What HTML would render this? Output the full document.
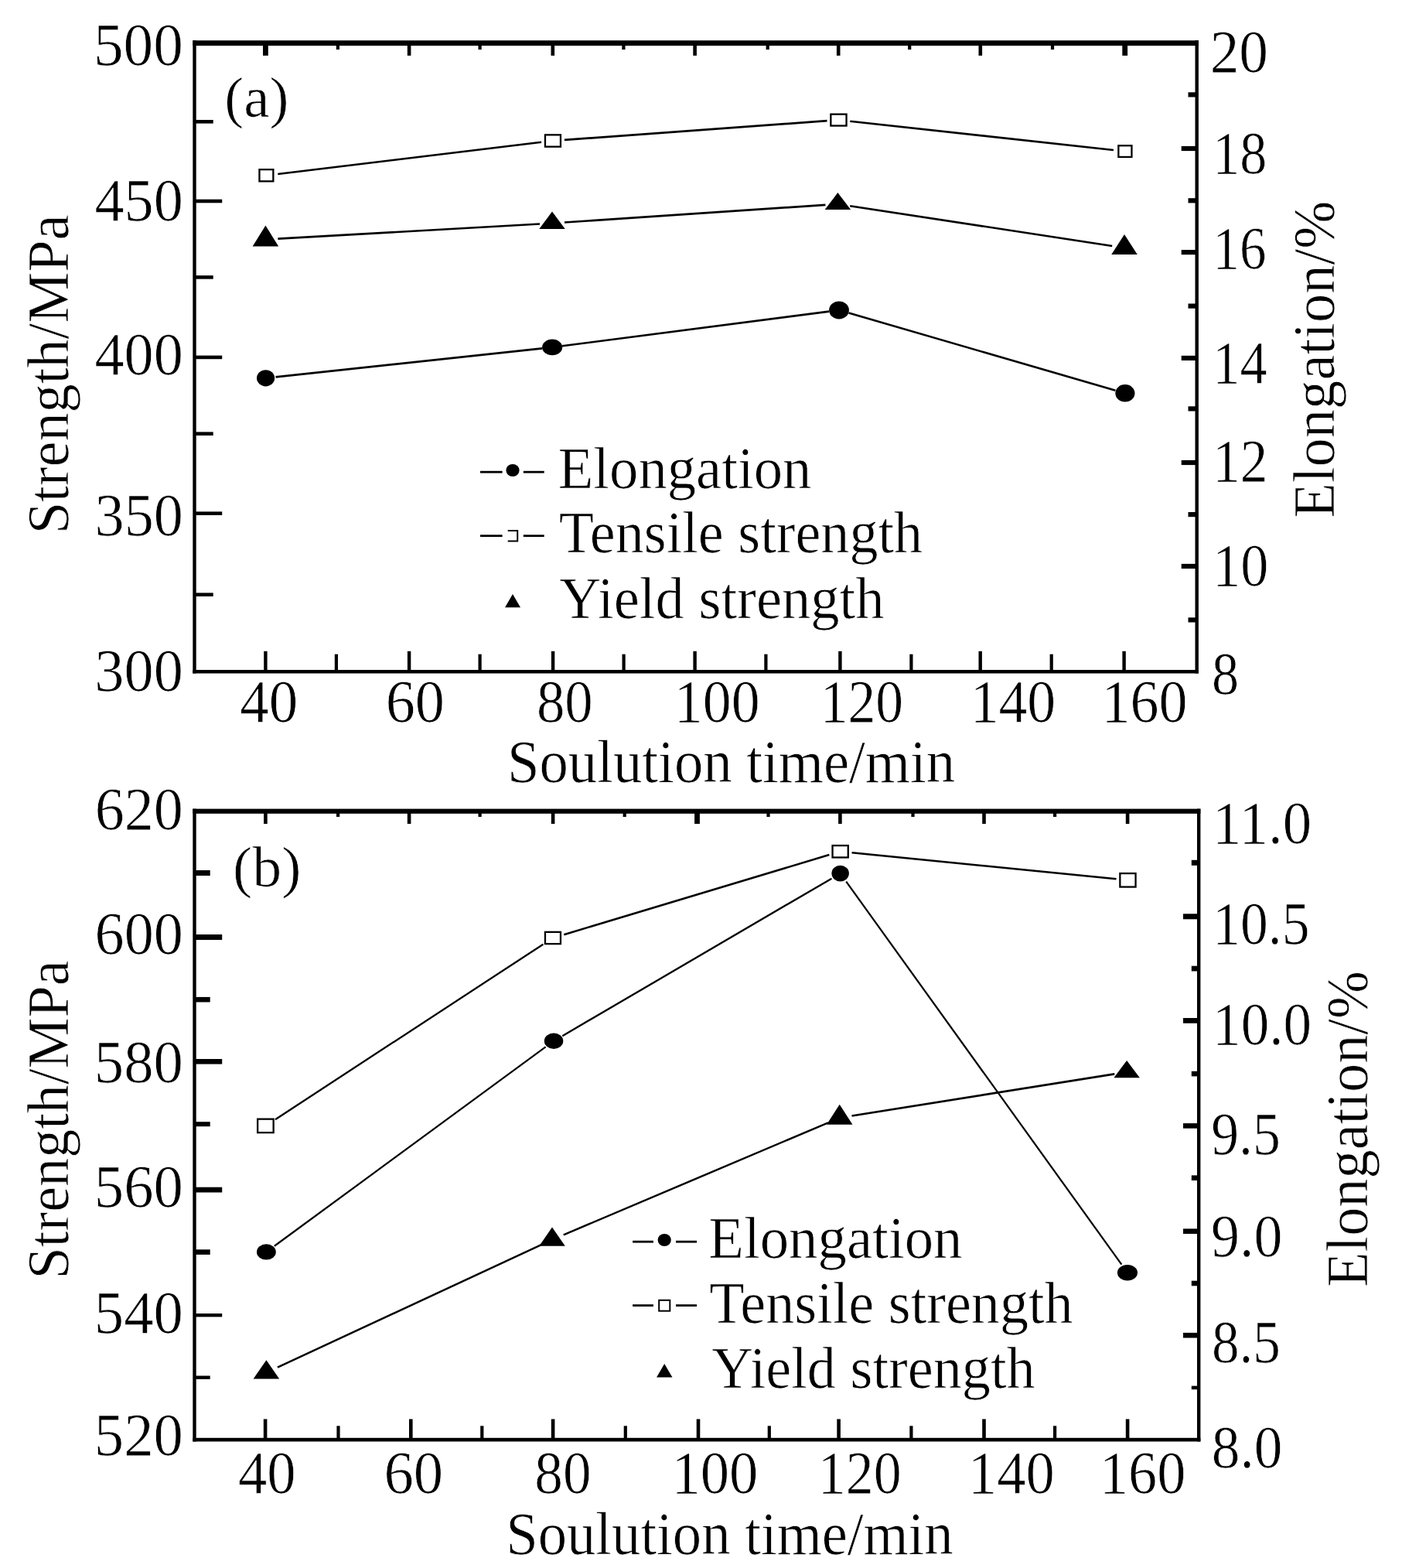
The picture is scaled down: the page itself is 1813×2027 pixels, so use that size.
<!DOCTYPE html>
<html lang="en">
<head>
<meta charset="utf-8">
<title>Strength and elongation versus solution time</title>
<style>
html,body{margin:0;padding:0;background:#fff;}
body{width:1813px;height:2027px;overflow:hidden;}
svg{display:block;}
svg text{font-family:"Liberation Serif","DejaVu Serif",serif;fill:#000;stroke:#fff;stroke-width:0.7px;}
</style>
</head>
<body>
<svg width="1813" height="2027" viewBox="0 0 1813 2027">
<rect x="0" y="0" width="1813" height="2027" fill="#fff"/>
<rect x="249.30" y="52.30" width="1300.60" height="6.80" fill="#000"/>
<rect x="249.30" y="866.00" width="1300.60" height="4.50" fill="#000"/>
<rect x="249.30" y="52.30" width="4.40" height="818.20" fill="#000"/>
<rect x="1545.50" y="52.30" width="4.40" height="818.20" fill="#000"/>
<rect x="341.20" y="841.80" width="4.40" height="25.20" fill="#000"/>
<rect x="432.80" y="845.70" width="4.20" height="21.30" fill="#000"/>
<rect x="526.90" y="841.80" width="4.40" height="25.20" fill="#000"/>
<rect x="618.50" y="845.70" width="4.20" height="21.30" fill="#000"/>
<rect x="712.90" y="841.80" width="4.40" height="25.20" fill="#000"/>
<rect x="804.50" y="845.70" width="4.20" height="21.30" fill="#000"/>
<rect x="896.40" y="841.80" width="4.40" height="25.20" fill="#000"/>
<rect x="988.30" y="845.70" width="4.20" height="21.30" fill="#000"/>
<rect x="1084.20" y="841.80" width="4.40" height="25.20" fill="#000"/>
<rect x="1176.30" y="845.70" width="4.20" height="21.30" fill="#000"/>
<rect x="1265.50" y="841.80" width="4.40" height="25.20" fill="#000"/>
<rect x="1357.60" y="845.70" width="4.20" height="21.30" fill="#000"/>
<rect x="1451.40" y="841.80" width="4.40" height="25.20" fill="#000"/>
<rect x="340.00" y="58.10" width="6.80" height="13.80" fill="#000"/>
<rect x="434.80" y="58.10" width="4.20" height="6.00" fill="#000"/>
<rect x="526.80" y="58.10" width="4.60" height="13.80" fill="#000"/>
<rect x="618.50" y="58.10" width="4.20" height="6.00" fill="#000"/>
<rect x="712.50" y="58.10" width="4.60" height="13.80" fill="#000"/>
<rect x="804.30" y="58.10" width="4.20" height="6.00" fill="#000"/>
<rect x="896.30" y="58.10" width="4.60" height="13.80" fill="#000"/>
<rect x="990.60" y="58.10" width="4.20" height="6.00" fill="#000"/>
<rect x="1081.90" y="58.10" width="4.60" height="13.80" fill="#000"/>
<rect x="1174.10" y="58.10" width="4.20" height="6.00" fill="#000"/>
<rect x="1265.50" y="58.10" width="4.60" height="13.80" fill="#000"/>
<rect x="1358.90" y="58.10" width="4.20" height="6.00" fill="#000"/>
<rect x="1451.30" y="58.10" width="6.80" height="13.80" fill="#000"/>
<rect x="252.70" y="766.40" width="23.00" height="4.60" fill="#000"/>
<rect x="252.70" y="661.40" width="34.50" height="4.60" fill="#000"/>
<rect x="252.70" y="558.40" width="23.00" height="4.60" fill="#000"/>
<rect x="252.70" y="459.60" width="34.50" height="4.60" fill="#000"/>
<rect x="252.70" y="356.10" width="23.00" height="4.60" fill="#000"/>
<rect x="252.70" y="257.70" width="34.50" height="4.60" fill="#000"/>
<rect x="252.70" y="155.00" width="23.00" height="4.60" fill="#000"/>
<rect x="1536.50" y="798.30" width="10.00" height="6.20" fill="#000"/>
<rect x="1527.70" y="728.90" width="18.80" height="6.20" fill="#000"/>
<rect x="1536.50" y="662.00" width="10.00" height="6.20" fill="#000"/>
<rect x="1527.70" y="594.90" width="18.80" height="6.20" fill="#000"/>
<rect x="1536.50" y="525.30" width="10.00" height="6.20" fill="#000"/>
<rect x="1527.70" y="459.80" width="18.80" height="6.20" fill="#000"/>
<rect x="1536.50" y="392.50" width="10.00" height="6.20" fill="#000"/>
<rect x="1527.70" y="323.00" width="18.80" height="6.20" fill="#000"/>
<rect x="1536.50" y="256.20" width="10.00" height="6.20" fill="#000"/>
<rect x="1527.70" y="188.90" width="18.80" height="6.20" fill="#000"/>
<rect x="1536.50" y="119.30" width="10.00" height="6.20" fill="#000"/>
<line x1="359.29" y1="224.95" x2="700.06" y2="183.80" stroke="#000" stroke-width="2.63"/>
<line x1="729.91" y1="180.91" x2="1069.49" y2="156.19" stroke="#000" stroke-width="2.64"/>
<line x1="1099.36" y1="156.73" x2="1439.99" y2="193.97" stroke="#000" stroke-width="2.64"/>
<line x1="356.53" y1="487.41" x2="701.22" y2="450.34" stroke="#000" stroke-width="2.64"/>
<line x1="727.04" y1="447.28" x2="1072.11" y2="402.62" stroke="#000" stroke-width="2.63"/>
<line x1="1097.48" y1="404.57" x2="1442.42" y2="504.73" stroke="#000" stroke-width="2.56"/>
<line x1="359.37" y1="308.63" x2="698.03" y2="289.50" stroke="#000" stroke-width="2.65"/>
<line x1="729.96" y1="287.53" x2="1067.44" y2="264.84" stroke="#000" stroke-width="2.65"/>
<line x1="1099.22" y1="266.18" x2="1438.18" y2="317.92" stroke="#000" stroke-width="2.62"/>
<rect x="335.45" y="219.15" width="17.90" height="15.20" fill="#fff" stroke="#000" stroke-width="2.3"/>
<rect x="704.95" y="174.35" width="20.00" height="15.30" fill="#fff" stroke="#000" stroke-width="2.3"/>
<rect x="1074.35" y="147.65" width="20.20" height="14.90" fill="#fff" stroke="#000" stroke-width="2.3"/>
<rect x="1446.35" y="188.25" width="17.10" height="14.70" fill="#fff" stroke="#000" stroke-width="2.3"/>
<ellipse cx="343.60" cy="488.80" rx="11.60" ry="10.60" fill="#000"/>
<ellipse cx="714.15" cy="448.95" rx="13.05" ry="10.35" fill="#000"/>
<ellipse cx="1085.00" cy="400.95" rx="12.90" ry="11.55" fill="#000"/>
<ellipse cx="1454.90" cy="508.35" rx="12.60" ry="11.25" fill="#000"/>
<polygon points="343.40,291.60 360.15,318.50 326.65,318.50" fill="#000"/>
<polygon points="714.00,273.60 730.75,296.10 697.25,296.10" fill="#000"/>
<polygon points="1083.40,249.10 1100.15,271.10 1066.65,271.10" fill="#000"/>
<polygon points="1454.00,303.00 1470.75,329.00 1437.25,329.00" fill="#000"/>
<rect x="249.30" y="1045.60" width="1303.10" height="6.20" fill="#000"/>
<rect x="249.30" y="1858.80" width="1303.10" height="4.70" fill="#000"/>
<rect x="249.30" y="1045.60" width="4.40" height="817.90" fill="#000"/>
<rect x="1548.00" y="1045.60" width="4.40" height="817.90" fill="#000"/>
<rect x="340.80" y="1834.50" width="4.60" height="25.30" fill="#000"/>
<rect x="435.40" y="1843.30" width="4.20" height="16.50" fill="#000"/>
<rect x="529.00" y="1834.50" width="4.60" height="25.30" fill="#000"/>
<rect x="621.20" y="1843.30" width="4.20" height="16.50" fill="#000"/>
<rect x="712.80" y="1834.50" width="4.60" height="25.30" fill="#000"/>
<rect x="806.70" y="1843.30" width="4.20" height="16.50" fill="#000"/>
<rect x="900.70" y="1834.50" width="4.60" height="25.30" fill="#000"/>
<rect x="992.70" y="1843.30" width="4.20" height="16.50" fill="#000"/>
<rect x="1082.30" y="1834.50" width="4.60" height="25.30" fill="#000"/>
<rect x="1176.30" y="1843.30" width="4.20" height="16.50" fill="#000"/>
<rect x="1270.20" y="1834.50" width="4.60" height="25.30" fill="#000"/>
<rect x="1362.00" y="1843.30" width="4.20" height="16.50" fill="#000"/>
<rect x="1455.80" y="1834.50" width="4.60" height="25.30" fill="#000"/>
<rect x="341.10" y="1050.80" width="4.60" height="14.20" fill="#000"/>
<rect x="435.00" y="1050.80" width="4.20" height="5.20" fill="#000"/>
<rect x="526.80" y="1050.80" width="4.60" height="14.20" fill="#000"/>
<rect x="618.50" y="1050.80" width="4.20" height="5.20" fill="#000"/>
<rect x="712.80" y="1050.80" width="4.60" height="14.20" fill="#000"/>
<rect x="805.60" y="1050.80" width="4.20" height="5.20" fill="#000"/>
<rect x="898.10" y="1050.80" width="6.80" height="14.20" fill="#000"/>
<rect x="991.40" y="1050.80" width="4.20" height="5.20" fill="#000"/>
<rect x="1084.10" y="1050.80" width="4.60" height="14.20" fill="#000"/>
<rect x="1178.40" y="1050.80" width="4.20" height="5.20" fill="#000"/>
<rect x="1270.20" y="1050.80" width="4.60" height="14.20" fill="#000"/>
<rect x="1362.00" y="1050.80" width="4.20" height="5.20" fill="#000"/>
<rect x="1455.80" y="1050.80" width="4.60" height="14.20" fill="#000"/>
<rect x="252.70" y="1778.50" width="19.00" height="4.40" fill="#000"/>
<rect x="252.70" y="1698.00" width="34.50" height="4.40" fill="#000"/>
<rect x="252.70" y="1615.30" width="19.00" height="6.60" fill="#000"/>
<rect x="252.70" y="1534.70" width="34.50" height="6.80" fill="#000"/>
<rect x="252.70" y="1450.20" width="19.00" height="6.00" fill="#000"/>
<rect x="252.70" y="1369.00" width="34.50" height="6.60" fill="#000"/>
<rect x="252.70" y="1288.90" width="19.00" height="6.60" fill="#000"/>
<rect x="252.70" y="1208.00" width="34.50" height="7.00" fill="#000"/>
<rect x="252.70" y="1125.00" width="19.00" height="7.00" fill="#000"/>
<rect x="1540.80" y="1791.60" width="8.20" height="4.60" fill="#000"/>
<rect x="1530.00" y="1722.90" width="19.00" height="6.60" fill="#000"/>
<rect x="1540.80" y="1655.70" width="8.20" height="6.60" fill="#000"/>
<rect x="1530.00" y="1588.40" width="19.00" height="6.60" fill="#000"/>
<rect x="1540.80" y="1519.40" width="8.20" height="6.60" fill="#000"/>
<rect x="1530.00" y="1452.10" width="19.00" height="6.60" fill="#000"/>
<rect x="1540.80" y="1384.80" width="8.20" height="6.60" fill="#000"/>
<rect x="1530.00" y="1316.00" width="19.00" height="6.80" fill="#000"/>
<rect x="1540.80" y="1248.70" width="8.20" height="6.80" fill="#000"/>
<rect x="1530.00" y="1181.30" width="19.00" height="7.00" fill="#000"/>
<rect x="1540.80" y="1111.80" width="8.20" height="7.00" fill="#000"/>
<line x1="355.96" y1="1447.19" x2="702.39" y2="1220.71" stroke="#000" stroke-width="2.29"/>
<line x1="729.31" y1="1208.18" x2="1072.29" y2="1105.07" stroke="#000" stroke-width="2.56"/>
<line x1="1101.58" y1="1102.24" x2="1443.52" y2="1136.31" stroke="#000" stroke-width="2.64"/>
<line x1="354.88" y1="1610.76" x2="705.57" y2="1353.44" stroke="#000" stroke-width="2.22"/>
<line x1="727.27" y1="1339.19" x2="1075.43" y2="1135.66" stroke="#000" stroke-width="2.35"/>
<line x1="1094.24" y1="1139.65" x2="1450.36" y2="1634.65" stroke="#000" stroke-width="2.24"/>
<line x1="358.91" y1="1767.59" x2="699.49" y2="1609.34" stroke="#000" stroke-width="2.45"/>
<line x1="728.73" y1="1596.36" x2="1070.97" y2="1451.28" stroke="#000" stroke-width="2.48"/>
<line x1="1101.50" y1="1442.51" x2="1441.30" y2="1388.35" stroke="#000" stroke-width="2.62"/>
<rect x="333.15" y="1446.65" width="20.50" height="17.50" fill="#fff" stroke="#000" stroke-width="2.3"/>
<rect x="704.95" y="1204.85" width="20.00" height="15.30" fill="#fff" stroke="#000" stroke-width="2.3"/>
<rect x="1076.55" y="1093.05" width="20.20" height="15.40" fill="#fff" stroke="#000" stroke-width="2.3"/>
<rect x="1448.35" y="1129.05" width="20.20" height="17.50" fill="#fff" stroke="#000" stroke-width="2.3"/>
<ellipse cx="344.40" cy="1618.45" rx="12.40" ry="10.15" fill="#000"/>
<ellipse cx="716.05" cy="1345.75" rx="12.25" ry="10.15" fill="#000"/>
<ellipse cx="1086.65" cy="1129.10" rx="11.25" ry="10.30" fill="#000"/>
<ellipse cx="1457.95" cy="1645.20" rx="13.05" ry="10.30" fill="#000"/>
<polygon points="344.40,1758.20 361.15,1782.40 327.65,1782.40" fill="#000"/>
<polygon points="714.00,1586.40 730.75,1610.70 697.25,1610.70" fill="#000"/>
<polygon points="1085.70,1427.70 1102.45,1453.70 1068.95,1453.70" fill="#000"/>
<polygon points="1457.10,1371.10 1473.85,1393.20 1440.35,1393.20" fill="#000"/>
<line x1="621.00" y1="610.20" x2="649.60" y2="610.20" stroke="#000" stroke-width="2.8"/>
<line x1="676.80" y1="610.20" x2="703.70" y2="610.20" stroke="#000" stroke-width="2.8"/>
<ellipse cx="663.0" cy="608.0" rx="8.6" ry="8.0" fill="#000"/>
<line x1="621.00" y1="692.70" x2="649.60" y2="692.70" stroke="#000" stroke-width="2.8"/>
<line x1="676.80" y1="692.70" x2="703.70" y2="692.70" stroke="#000" stroke-width="2.8"/>
<path d="M656.7 686.0 H669.2 V699.4 H656.7" fill="none" stroke="#000" stroke-width="2"/>
<polygon points="663.0,767.9 673.0,785.3 653.0,785.3" fill="#000"/>
<line x1="818.10" y1="1605.20" x2="844.90" y2="1605.20" stroke="#000" stroke-width="2.8"/>
<line x1="874.00" y1="1605.20" x2="901.00" y2="1605.20" stroke="#000" stroke-width="2.8"/>
<ellipse cx="859.2" cy="1603.0" rx="8.6" ry="8.0" fill="#000"/>
<line x1="818.10" y1="1687.60" x2="844.90" y2="1687.60" stroke="#000" stroke-width="2.8"/>
<line x1="874.00" y1="1687.60" x2="901.00" y2="1687.60" stroke="#000" stroke-width="2.8"/>
<rect x="852.2" y="1680.8" width="14.1" height="13.9" fill="#fff" stroke="#000" stroke-width="2"/>
<polygon points="859.2,1763.0 869.5,1780.6 849.0,1780.6" fill="#000"/>
<text transform="translate(120.96 83.80) scale(0.9962 1)" font-size="77.59">500</text>
<text transform="translate(122.47 284.70) scale(0.9828 1)" font-size="77.59">450</text>
<text transform="translate(122.47 483.70) scale(0.9828 1)" font-size="77.59">400</text>
<text transform="translate(122.58 691.70) scale(0.9818 1)" font-size="77.59">350</text>
<text transform="translate(122.37 892.90) scale(0.9836 1)" font-size="77.59">300</text>
<text transform="translate(1564.71 92.60) scale(0.9706 1)" font-size="77.59">20</text>
<text transform="translate(1568.28 224.20) scale(0.9014 1)" font-size="77.59">18</text>
<text transform="translate(1568.46 347.30) scale(0.8894 1)" font-size="77.59">16</text>
<text transform="translate(1568.35 495.00) scale(0.9061 1)" font-size="77.59">14</text>
<text transform="translate(1568.29 621.60) scale(0.9153 1)" font-size="77.59">12</text>
<text transform="translate(1568.19 756.60) scale(0.9294 1)" font-size="77.59">10</text>
<text transform="translate(1566.97 897.30) scale(0.9036 1)" font-size="77.59">8</text>
<text transform="translate(310.30 933.00) scale(0.9691 1)" font-size="77.29">40</text>
<text transform="translate(498.66 933.00) scale(0.9872 1)" font-size="77.29">60</text>
<text transform="translate(693.97 933.00) scale(0.9413 1)" font-size="77.29">80</text>
<text transform="translate(871.84 933.00) scale(0.9550 1)" font-size="77.29">100</text>
<text transform="translate(1060.74 933.00) scale(0.9259 1)" font-size="77.29">120</text>
<text transform="translate(1254.65 933.00) scale(0.9541 1)" font-size="77.29">140</text>
<text transform="translate(1424.52 933.00) scale(0.9579 1)" font-size="77.29">160</text>
<text transform="translate(655.95 1011.40) scale(0.9634 1)" font-size="77.58">Soulution time/min</text>
<text transform="translate(88.30 690.32) rotate(-90) scale(0.9837 1)" font-size="75.57">Strength/MPa</text>
<text transform="translate(1724.50 669.74) rotate(-90) scale(0.9890 1)" font-size="75.42">Elongation/%</text>
<text transform="translate(290.33 151.10) scale(1.0051 1)" font-size="74.53">(a)</text>
<text transform="translate(721.76 630.90) scale(0.9862 1)" font-size="75.73">Elongation</text>
<text transform="translate(722.70 714.30) scale(0.9872 1)" font-size="75.11">Tensile strength</text>
<text transform="translate(723.25 798.60) scale(0.9749 1)" font-size="76.49">Yield strength</text>
<text transform="translate(122.77 1071.90) scale(0.9802 1)" font-size="77.59">620</text>
<text transform="translate(122.56 1232.60) scale(0.9820 1)" font-size="77.59">600</text>
<text transform="translate(121.79 1398.60) scale(0.9888 1)" font-size="77.59">580</text>
<text transform="translate(121.79 1559.60) scale(0.9888 1)" font-size="77.59">560</text>
<text transform="translate(121.79 1722.60) scale(0.9888 1)" font-size="77.59">540</text>
<text transform="translate(121.79 1881.00) scale(0.9888 1)" font-size="77.59">520</text>
<text transform="translate(1567.96 1089.90) scale(0.9636 1)" font-size="77.59">11.0</text>
<text transform="translate(1568.24 1219.60) scale(0.9222 1)" font-size="77.59">10.5</text>
<text transform="translate(1568.11 1349.60) scale(0.9414 1)" font-size="77.59">10.0</text>
<text transform="translate(1566.17 1492.20) scale(0.9248 1)" font-size="77.59">9.5</text>
<text transform="translate(1566.10 1624.20) scale(0.9524 1)" font-size="77.59">9.0</text>
<text transform="translate(1566.93 1760.60) scale(0.9167 1)" font-size="77.59">8.5</text>
<text transform="translate(1566.85 1897.40) scale(0.9444 1)" font-size="77.59">8.0</text>
<text transform="translate(308.01 1930.40) scale(0.9664 1)" font-size="77.29">40</text>
<text transform="translate(496.44 1930.40) scale(0.9928 1)" font-size="77.29">60</text>
<text transform="translate(691.36 1930.40) scale(0.9469 1)" font-size="77.29">80</text>
<text transform="translate(868.47 1930.40) scale(0.9654 1)" font-size="77.29">100</text>
<text transform="translate(1057.81 1930.40) scale(0.9296 1)" font-size="77.29">120</text>
<text transform="translate(1251.98 1930.40) scale(0.9644 1)" font-size="77.29">140</text>
<text transform="translate(1421.90 1930.40) scale(0.9616 1)" font-size="77.29">160</text>
<text transform="translate(654.16 2008.70) scale(0.9565 1)" font-size="78.04">Soulution time/min</text>
<text transform="translate(88.30 1653.41) rotate(-90) scale(0.9817 1)" font-size="75.57">Strength/MPa</text>
<text transform="translate(1767.50 1663.93) rotate(-90) scale(0.9740 1)" font-size="76.34">Elongation/%</text>
<text transform="translate(301.09 1145.70) scale(1.0240 1)" font-size="73.96">(b)</text>
<text transform="translate(916.26 1626.20) scale(0.9798 1)" font-size="76.34">Elongation</text>
<text transform="translate(917.20 1709.60) scale(0.9872 1)" font-size="75.11">Tensile strength</text>
<text transform="translate(920.16 1793.90) scale(0.9785 1)" font-size="75.88">Yield strength</text>
</svg>
</body>
</html>
